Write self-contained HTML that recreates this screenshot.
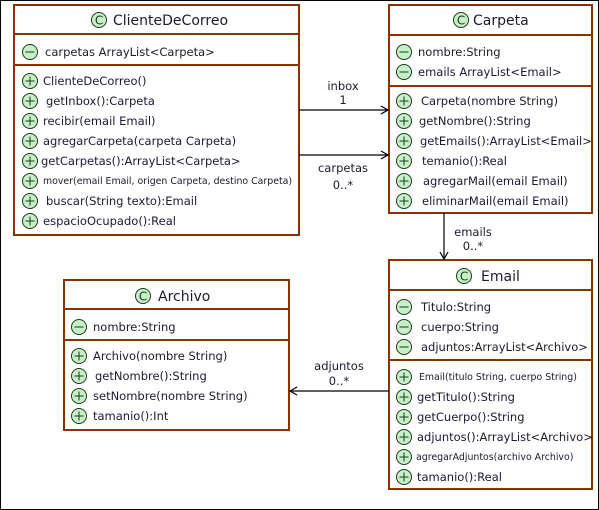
<!DOCTYPE html>
<html><head><meta charset="utf-8"><style>
html,body{margin:0;padding:0;background:#fff;}
svg{display:block;font-family:"DejaVu Sans","Liberation Sans",sans-serif;}
.t{font-size:11.5px;fill:#1a1a33;}
.s{font-size:9.4px;fill:#1a1a33;}
.h{font-size:14px;fill:#1a1a33;}
.b{fill:#fff;stroke:#8b3300;stroke-width:2;}
.d{stroke:#8b3300;stroke-width:2;}
.ic{fill:#c8f0c8;stroke:#1a3a1a;stroke-width:1;}
.ln{stroke:#000;stroke-width:1.2;fill:none;}
.m{font-size:11.5px;fill:#1a1a33;text-anchor:middle;}
</style></head><body>
<svg width="599" height="510" viewBox="0 0 599 510">
<defs>
<g id="p"><circle class="ic" cx="0" cy="0" r="7.5"/><path d="M-4.5 0H4.5M0 -4.5V4.5" stroke="#1a3a1a" stroke-width="1"/></g>
<g id="mi"><circle class="ic" cx="0" cy="0" r="7.5"/><path d="M-4.5 0H4.5" stroke="#1a3a1a" stroke-width="1"/></g>
<g id="c"><circle class="ic" cx="0" cy="0" r="7.5"/><text x="0" y="4.5" text-anchor="middle" style="font-size:12px;fill:#1a3a1a">C</text></g>
</defs>
<rect x="0.5" y="0.5" width="598" height="509" fill="none" stroke="#000"/>

<!-- ClienteDeCorreo -->
<rect class="b" x="14" y="5" width="285" height="230"/>
<line class="d" x1="14" y1="34" x2="299" y2="34"/>
<line class="d" x1="14" y1="65" x2="299" y2="65"/>
<use href="#c" x="99" y="20"/><text class="h" x="113" y="25">ClienteDeCorreo</text>
<use href="#mi" x="30" y="52"/><text class="t" x="45" y="56">carpetas ArrayList&lt;Carpeta&gt;</text>
<use href="#p" x="30" y="81"/><text class="t" x="43" y="85">ClienteDeCorreo()</text>
<use href="#p" x="30" y="101"/><text class="t" x="46" y="105">getInbox():Carpeta</text>
<use href="#p" x="30" y="121"/><text class="t" x="43" y="125">recibir(email Email)</text>
<use href="#p" x="30" y="141"/><text class="t" x="43" y="145">agregarCarpeta(carpeta Carpeta)</text>
<use href="#p" x="30" y="161"/><text class="t" x="41" y="165">getCarpetas():ArrayList&lt;Carpeta&gt;</text>
<use href="#p" x="30" y="181"/><text class="s" x="43" y="184">mover(email Email, origen Carpeta, destino Carpeta)</text>
<use href="#p" x="30" y="201"/><text class="t" x="46" y="205">buscar(String texto):Email</text>
<use href="#p" x="30" y="221"/><text class="t" x="43" y="225">espacioOcupado():Real</text>

<!-- Carpeta -->
<rect class="b" x="389" y="5" width="203" height="208"/>
<line class="d" x1="389" y1="35" x2="592" y2="35"/>
<line class="d" x1="389" y1="86" x2="592" y2="86"/>
<use href="#c" x="461" y="20"/><text class="h" x="473" y="25">Carpeta</text>
<use href="#mi" x="404" y="52"/><text class="t" x="418" y="56">nombre:String</text>
<use href="#mi" x="404" y="72"/><text class="t" x="418" y="76">emails ArrayList&lt;Email&gt;</text>
<use href="#p" x="404" y="101"/><text class="t" x="421" y="105">Carpeta(nombre String)</text>
<use href="#p" x="404" y="121"/><text class="t" x="419" y="125">getNombre():String</text>
<use href="#p" x="404" y="141"/><text class="t" x="420" y="145">getEmails():ArrayList&lt;Email&gt;</text>
<use href="#p" x="404" y="161"/><text class="t" x="422" y="165">temanio():Real</text>
<use href="#p" x="404" y="181"/><text class="t" x="423" y="185">agregarMail(email Email)</text>
<use href="#p" x="404" y="201"/><text class="t" x="422" y="205">eliminarMail(email Email)</text>

<!-- Email -->
<rect class="b" x="389" y="260" width="203" height="229"/>
<line class="d" x1="389" y1="290" x2="592" y2="290"/>
<line class="d" x1="389" y1="360" x2="592" y2="360"/>
<use href="#c" x="464" y="276"/><text class="h" x="481" y="281">Email</text>
<use href="#mi" x="404" y="307"/><text class="t" x="421" y="311">Titulo:String</text>
<use href="#mi" x="404" y="327"/><text class="t" x="421" y="331">cuerpo:String</text>
<use href="#mi" x="404" y="347"/><text class="t" x="421" y="351">adjuntos:ArrayList&lt;Archivo&gt;</text>
<use href="#p" x="404" y="377"/><text class="s" x="419" y="380">Email(titulo String, cuerpo String)</text>
<use href="#p" x="404" y="397"/><text class="t" x="417" y="401">getTitulo():String</text>
<use href="#p" x="404" y="417"/><text class="t" x="417" y="421">getCuerpo():String</text>
<use href="#p" x="404" y="437"/><text class="t" x="417" y="441">adjuntos():ArrayList&lt;Archivo&gt;</text>
<use href="#p" x="404" y="457"/><text class="s" x="416" y="460">agregarAdjuntos(archivo Archivo)</text>
<use href="#p" x="404" y="477"/><text class="t" x="417" y="481">tamanio():Real</text>

<!-- Archivo -->
<rect class="b" x="64" y="280" width="225" height="150"/>
<line class="d" x1="64" y1="309" x2="289" y2="309"/>
<line class="d" x1="64" y1="340" x2="289" y2="340"/>
<use href="#c" x="143" y="296"/><text class="h" x="158" y="301">Archivo</text>
<use href="#mi" x="79" y="327"/><text class="t" x="93" y="331">nombre:String</text>
<use href="#p" x="79" y="356"/><text class="t" x="93" y="360">Archivo(nombre String)</text>
<use href="#p" x="79" y="376"/><text class="t" x="95" y="380">getNombre():String</text>
<use href="#p" x="79" y="396"/><text class="t" x="93" y="400">setNombre(nombre String)</text>
<use href="#p" x="79" y="416"/><text class="t" x="93" y="420">tamanio():Int</text>

<!-- connectors -->
<line class="ln" x1="299" y1="110" x2="388" y2="110"/><path class="ln" d="M381 106L388 110L381 114"/>
<text class="m" x="343" y="90">inbox</text><text class="m" x="343" y="104">1</text>
<line class="ln" x1="299" y1="155" x2="388" y2="155"/><path class="ln" d="M381 151L388 155L381 159"/>
<text class="m" x="343" y="172">carpetas</text><text class="m" x="343" y="189">0..*</text>
<line class="ln" x1="444" y1="213" x2="444" y2="259"/><path class="ln" d="M440 252L444 259L448 252"/>
<text class="m" x="473" y="236">emails</text><text class="m" x="473" y="250">0..*</text>
<line class="ln" x1="389" y1="391" x2="290" y2="391"/><path class="ln" d="M297 387L290 391L297 395"/>
<text class="m" x="339" y="370">adjuntos</text><text class="m" x="339" y="385">0..*</text>
</svg>
</body></html>
